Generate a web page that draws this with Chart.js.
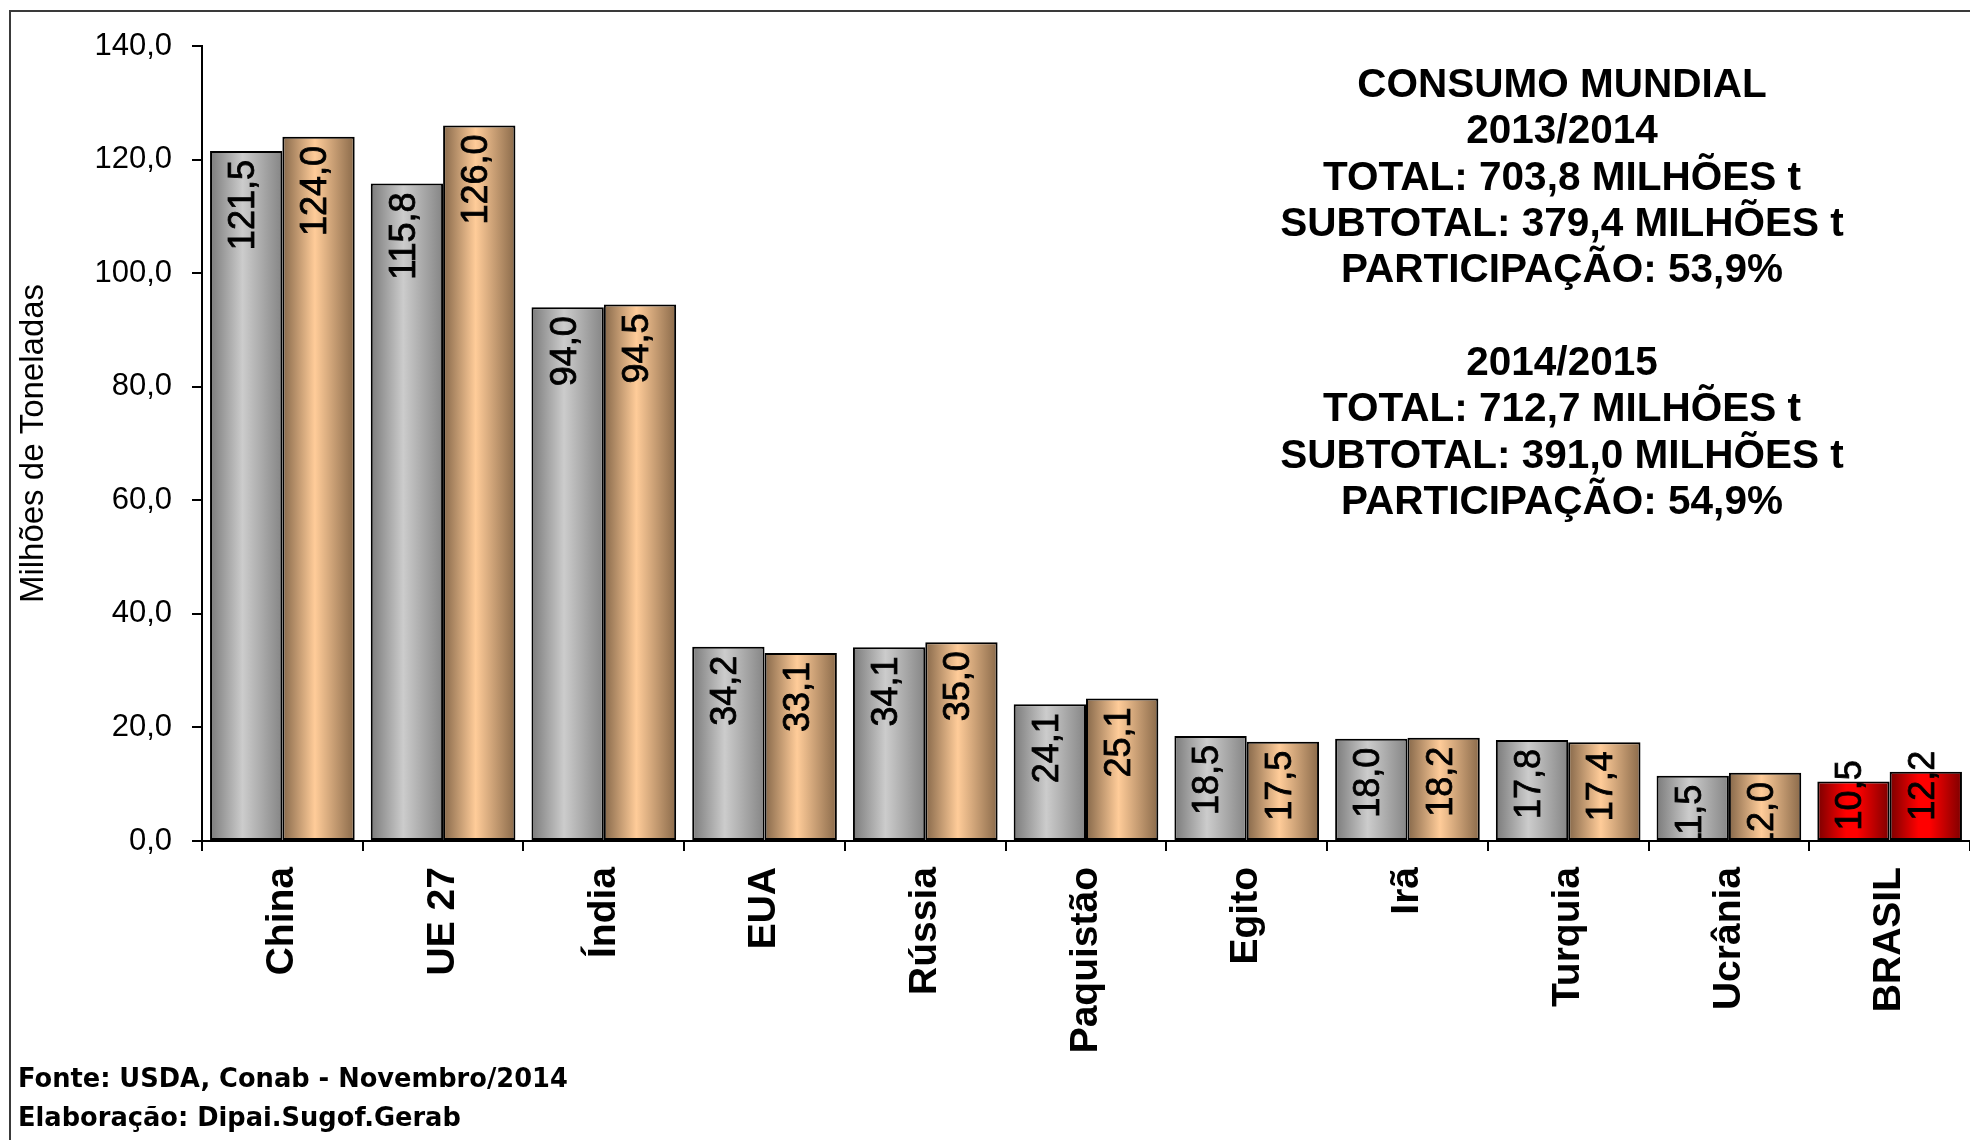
<!DOCTYPE html>
<html><head><meta charset="utf-8">
<script src="https://cdn.jsdelivr.net/npm/chart.js@4.4.1/dist/chart.umd.min.js"></script>
<style>html,body{margin:0;padding:0;background:#fff;overflow:hidden}</style>
</head><body>
<canvas id="c" width="1970" height="1140"></canvas>
<script>
const categories = ['China','UE 27','Índia','EUA','Rússia','Paquistão','Egito','Irã','Turquia','Ucrânia','BRASIL'];
const consumo2013_14 = [121.5,115.8,94.0,34.2,34.1,24.1,18.5,18.0,17.8,11.5,10.5];
const consumo2014_15 = [124.0,126.0,94.5,33.1,35.0,25.1,17.5,18.2,17.4,12.0,12.2];
const seriesNames = ['2013/2014','2014/2015'];
const yTicks = [0,20,40,60,80,100,120,140];
const highlightCategory = 'BRASIL';
const yAxisTitle = 'Milhões de Toneladas';
const infoLines = ['CONSUMO MUNDIAL','2013/2014','TOTAL: 703,8 MILHÕES t','SUBTOTAL: 379,4 MILHÕES t','PARTICIPAÇÃO: 53,9%','','2014/2015','TOTAL: 712,7 MILHÕES t','SUBTOTAL: 391,0 MILHÕES t','PARTICIPAÇÃO: 54,9%'];
const footerLines = ['Fonte: USDA, Conab - Novembro/2014','Elaboração: Dipai.Sugof.Gerab'];

const SANS = '"Liberation Sans", Arial, sans-serif';
const palettes = {
  gray: ['#7b7b7b','#cccccc','#858585'],
  orange: ['#86684a','#ffcc99','#8a6a4a'],
  red: ['#7a0000','#ff0000','#7e0000']
};
const fmt = v => v.toFixed(1).replace('.', ',');

function barFill(c, dsIndex) {
  const chart = c.chart;
  const isHi = categories[c.dataIndex] === highlightCategory;
  const pal = isHi ? palettes.red : (dsIndex === 0 ? palettes.gray : palettes.orange);
  const xs = chart.scales && chart.scales.x;
  if (!chart.chartArea || !xs || c.type !== 'data') return pal[1];
  const catW = xs.width / categories.length;
  const bw = catW * 0.9 / 2;
  const cx = xs.getPixelForValue(c.dataIndex);
  const x0 = dsIndex === 0 ? cx - bw : cx;
  const g = chart.ctx.createLinearGradient(x0, 0, x0 + bw, 0);
  g.addColorStop(0, pal[0]);
  g.addColorStop(isHi ? 0.4 : 0.45, pal[1]);
  if (isHi) g.addColorStop(0.55, pal[1]);
  g.addColorStop(1, pal[2]);
  return g;
}

const bgPlugin = {
  id: 'bg',
  beforeDraw(chart) {
    const ctx = chart.ctx;
    ctx.save();
    ctx.fillStyle = '#fff';
    ctx.fillRect(0, 0, chart.width, chart.height);
    ctx.strokeStyle = '#3a3a3a';
    ctx.lineWidth = 2;
    ctx.beginPath();
    ctx.moveTo(10, chart.height); ctx.lineTo(10, 11); ctx.lineTo(chart.width, 11);
    ctx.stroke();
    ctx.restore();
  },
  afterDraw(chart) {
    const ctx = chart.ctx;
    ctx.save();
    ctx.fillStyle = '#000';
    ctx.font = 'bold 40.5px ' + SANS;
    ctx.textAlign = 'center';
    ctx.textBaseline = 'middle';
    infoLines.forEach((t, i) => { if (t) ctx.fillText(t, 1562, 86 + i * 46.3); });
    ctx.font = 'bold 25.7px "DejaVu Sans", Verdana, sans-serif';
    ctx.textAlign = 'left';
    ctx.textBaseline = 'alphabetic';
    footerLines.forEach((t, i) => ctx.fillText(t, 18, 1087 + i * 39));
    ctx.restore();
  }
};

const labelPlugin = {
  id: 'barLabels',
  afterDatasetsDraw(chart) {
    const {ctx, chartArea} = chart;
    ctx.save();
    ctx.beginPath();
    ctx.rect(chartArea.left, chartArea.top - 40, chartArea.right - chartArea.left, chartArea.bottom - chartArea.top + 40);
    ctx.clip();
    ctx.font = '36px ' + SANS;
    ctx.fillStyle = '#000';
    ctx.strokeStyle = '#000';
    ctx.lineWidth = 0.8;
    ctx.textAlign = 'right';
    ctx.textBaseline = 'middle';
    chart.data.datasets.forEach((ds, di) => {
      chart.getDatasetMeta(di).data.forEach((bar, i) => {
        const txt = fmt(ds.data[i]);
        const w = ctx.measureText(txt).width;
        const isHi = categories[i] === highlightCategory;
        const topY = isHi ? bar.y + 14 - w / 2 : bar.y + 9;
        ctx.save();
        ctx.translate(bar.x - 2, topY);
        ctx.rotate(-Math.PI / 2);
        ctx.fillText(txt, 0, 0);
        ctx.strokeText(txt, 0, 0);
        ctx.restore();
      });
    });
    ctx.restore();
  }
};

new Chart(document.getElementById('c'), {
  type: 'bar',
  data: {
    labels: categories,
    datasets: [
      {label: seriesNames[0], data: consumo2013_14, backgroundColor: c => barFill(c, 0), borderColor: '#000', borderWidth: 2, borderSkipped: false},
      {label: seriesNames[1], data: consumo2014_15, backgroundColor: c => barFill(c, 1), borderColor: '#000', borderWidth: 2, borderSkipped: false}
    ]
  },
  options: {
    responsive: false,
    animation: false,
    devicePixelRatio: 1,
    layout: {padding: {top: 46, left: 0, right: 0, bottom: 0}},
    plugins: {legend: {display: false}, tooltip: {enabled: false}},
    datasets: {bar: {categoryPercentage: 0.9, barPercentage: 1.0}},
    scales: {
      x: {
        grid: {offset: true, drawOnChartArea: false, tickLength: 10, color: '#000', lineWidth: 2},
        border: {color: '#000', width: 2},
        ticks: {autoSkip: false, minRotation: 90, maxRotation: 90, padding: 16, color: '#000',
                font: {family: SANS, size: 39, weight: 'bold'}},
        afterFit(s) { s.height = 299; }
      },
      y: {
        min: 0, max: 140,
        afterBuildTicks(s) { s.ticks = yTicks.map(v => ({value: v})); },
        grid: {drawOnChartArea: false, tickLength: 10, color: '#000', lineWidth: 2},
        border: {color: '#000', width: 2},
        ticks: {padding: 20, color: '#000', font: {family: SANS, size: 31}, callback: v => fmt(v)},
        title: {display: true, text: yAxisTitle, color: '#000', font: {family: SANS, size: 33}, padding: {top: 14, bottom: 4}},
        afterFit(s) { s.width = 202; }
      }
    }
  },
  plugins: [bgPlugin, labelPlugin]
});
</script>
</body></html>
